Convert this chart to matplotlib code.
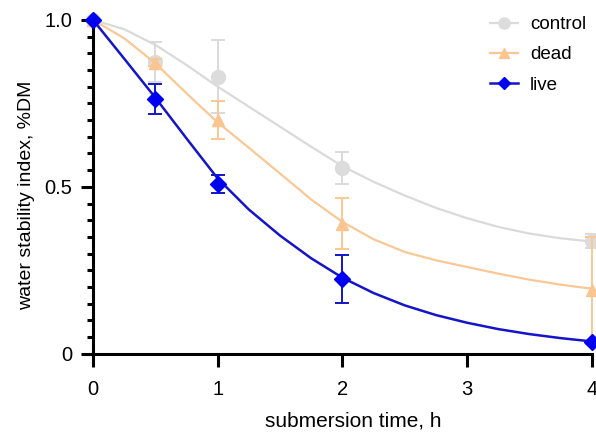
import matplotlib.pyplot as plt
from matplotlib.lines import Line2D
from matplotlib.ticker import MultipleLocator

plt.rcParams['font.family'] = ['Liberation Sans', 'DejaVu Sans']

# measured points
t = [0, 0.5, 1, 2, 4]
control = [1.0, 0.875, 0.83, 0.557, 0.338]
control_err = [0.0, 0.06, 0.11, 0.048, 0.02]
dead = [1.0, 0.872, 0.70, 0.39, 0.19]
dead_err = [0.0, 0.01, 0.057, 0.077, 0.16]
live = [1.0, 0.763, 0.509, 0.224, 0.035]
live_err = [0.0, 0.046, 0.027, 0.072, 0.0]

# fitted curves
t_fit = [0, 0.25, 0.5, 0.75, 1.0, 1.25, 1.5, 1.75, 2.0, 2.25, 2.5, 2.75, 3.0, 3.25, 3.5, 3.75, 4.0]
control_fit = [1.0, 0.972, 0.925, 0.865, 0.80, 0.74, 0.68, 0.62, 0.562, 0.515, 0.474,
               0.437, 0.406, 0.38, 0.36, 0.346, 0.336]
dead_fit = [1.0, 0.945, 0.87, 0.78, 0.693, 0.617, 0.54, 0.462, 0.395, 0.343, 0.305,
            0.28, 0.26, 0.24, 0.222, 0.207, 0.195]
live_fit = [1.0, 0.884, 0.767, 0.645, 0.525, 0.432, 0.354, 0.286, 0.228, 0.182, 0.145,
            0.116, 0.093, 0.074, 0.059, 0.047, 0.037]

names = ['control', 'dead', 'live']
colors = ['#dadada', '#f9c896', '#1414c8']
mcolors = ['#dcdcdc', '#fbc592', '#0000f0']
markers = ['o', '^', 'D']
msizes = [10, 9, 8]
widths = [1.6, 1.6, 1.8]

fig = plt.figure(figsize=(5.96, 4.32), dpi=100)
ax = fig.add_axes([0.156, 0.181, 0.837, 0.773])

series = [(control, control_err, control_fit), (dead, dead_err, dead_fit), (live, live_err, live_fit)]
handles = []
for i, (y, e, yf) in enumerate(series):
    z = 2 + i
    ax.plot(t_fit, yf, color=colors[i], lw=widths[i], zorder=z, clip_on=False)
    ax.errorbar(t, y, yerr=e, fmt=markers[i], color=mcolors[i], ms=msizes[i],
                ecolor=colors[i], elinewidth=1.4, capsize=5, capthick=1.4,
                zorder=z, clip_on=False)
    handles.append(Line2D([], [], color=colors[i], marker=markers[i], ms=msizes[i] - 2,
                          markerfacecolor=mcolors[i], markeredgecolor=mcolors[i], lw=widths[i]))

ax.legend(handles, names, loc='upper left', bbox_to_anchor=(0.822, 0.963),
          bbox_transform=fig.transFigure, frameon=False, borderpad=0, borderaxespad=0,
          fontsize=13.5, handlelength=1.5, handletextpad=0.65, labelspacing=0.7)

ax.set_xlim(0, 4)
ax.set_ylim(0, 1)
ax.set_xticks([0, 1, 2, 3, 4])
ax.set_yticks([0, 0.5, 1.0])
ax.set_yticklabels(['0', '0.5', '1.0'])
ax.yaxis.set_minor_locator(MultipleLocator(0.05))

for s in ['top', 'right']:
    ax.spines[s].set_visible(False)
for s in ['left', 'bottom']:
    ax.spines[s].set_linewidth(2.2)
ax.tick_params(which='major', length=9, width=2.2, labelsize=14.5)
ax.tick_params(axis='y', which='major', pad=6)
ax.tick_params(axis='x', which='major', pad=10)
ax.tick_params(which='minor', length=4.5, width=2.2)

ax.set_xlabel('submersion time, h', fontsize=15, va='top')
ax.xaxis.set_label_coords(0.522, -0.172)
ax.set_ylabel('water stability index, %DM', fontsize=14, va='bottom')
ax.yaxis.set_label_coords(-0.116, 0.476)

fig.savefig('out.png', dpi=100)
